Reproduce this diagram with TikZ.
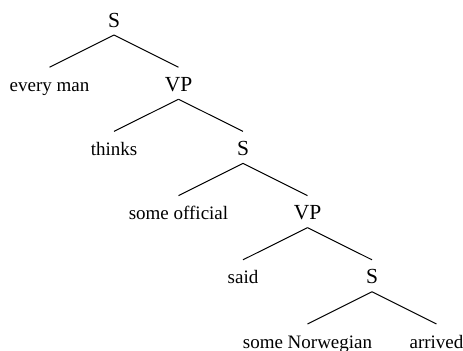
\documentclass[tikz,border=0pt]{standalone}
\usepackage{fontspec}
\setmainfont{Liberation Serif}
\usepackage{tikz}

\tikzset{
  cat/.style={anchor=base,inner sep=0pt,text height=11.8pt,text depth=3.8pt,font=\fontsize{10.75}{12}\selectfont},
  word/.style={anchor=base,inner sep=0pt,text height=11.8pt,text depth=3.8pt,font=\fontsize{9.5}{11}\selectfont},
  branch/.style={line width=0.5pt}
}

\begin{document}
\begin{tikzpicture}[x=0.5pt,y=0.5pt,yscale=-1]
%set diagram to 463 x 350
\useasboundingbox (0,0) rectangle (463,350);

% Text Node
\node [cat] (s1) at (114,27) {S};
% Text Node
\node [word] (everyman) at (49.5,91.2) {every man};
% Text Node
\node [cat] (vp1) at (178.5,91.2) {VP};
% Text Node
\node [word] (thinks) at (114,155.4) {thinks};
% Text Node
\node [cat] (s2) at (243,155.4) {S};
% Text Node
\node [word] (official) at (178.5,219.6) {some official};
% Text Node
\node [cat] (vp2) at (307.5,219.6) {VP};
% Text Node
\node [word] (said) at (243,283.8) {said};
% Text Node
\node [cat] (s3) at (372,283.8) {S};
% Text Node
\node [word] (norwegian) at (307.5,348) {some Norwegian};
% Text Node
\node [word] (arrived) at (436.5,348) {arrived};

%Straight Lines
\draw [branch] (s1.south) -- (everyman.north);
\draw [branch] (s1.south) -- (vp1.north);
\draw [branch] (vp1.south) -- (thinks.north);
\draw [branch] (vp1.south) -- (s2.north);
\draw [branch] (s2.south) -- (official.north);
\draw [branch] (s2.south) -- (vp2.north);
\draw [branch] (vp2.south) -- (said.north);
\draw [branch] (vp2.south) -- (s3.north);
\draw [branch] (s3.south) -- (norwegian.north);
\draw [branch] (s3.south) -- (arrived.north);

\end{tikzpicture}
\end{document}
